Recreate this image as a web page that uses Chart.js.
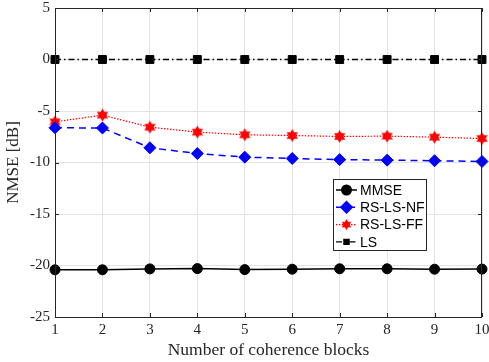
<!DOCTYPE html>
<html>
<head>
<meta charset="utf-8">
<script src="https://cdn.jsdelivr.net/npm/chart.js@4"></script>
<style>
  html, body { margin: 0; padding: 0; background: #fff; }
  #wrap { width: 489px; height: 362px; }
</style>
</head>
<body>
<div id="wrap"><canvas id="chart" width="489" height="362"></canvas></div>
<script>
// data
const blocks = [1, 2, 3, 4, 5, 6, 7, 8, 9, 10];
const mmse = [-20.42, -20.42, -20.33, -20.3, -20.4, -20.36, -20.32, -20.32, -20.36, -20.35];
const rsLsNf = [-6.63, -6.65, -8.57, -9.13, -9.48, -9.61, -9.72, -9.77, -9.83, -9.9];
const rsLsFf = [-6.05, -5.4, -6.57, -7.05, -7.31, -7.38, -7.47, -7.44, -7.54, -7.67];
const ls = [0, 0, 0, 0, 0, 0, 0, 0, 0, 0];
const yTicks = [-25, -20, -15, -10, -5, 0, 5];

// six-pointed star marker
function makeHexagram(color, r) {
  const c = document.createElement('canvas');
  const s = Math.ceil(r * 2 + 2);
  c.width = s; c.height = s;
  const g = c.getContext('2d');
  const cx = s / 2, cy = s / 2;
  g.fillStyle = color;
  [-Math.PI / 2, Math.PI / 2].forEach(a0 => {
    g.beginPath();
    for (let i = 0; i < 3; i++) {
      const a = a0 + i * 2 * Math.PI / 3;
      const x = cx + r * Math.cos(a), y = cy + r * Math.sin(a);
      if (i === 0) g.moveTo(x, y); else g.lineTo(x, y);
    }
    g.closePath();
    g.fill();
  });
  return c;
}
const starRed = makeHexagram('#ff0000', 6.5);
const starRedSmall = makeHexagram('#ff0000', 5.5);

const series = [
  { label: 'MMSE', data: mmse, color: '#000000', dash: [], width: 1.5, style: 'circle', radius: 5 },
  { label: 'RS-LS-NF', data: rsLsNf, color: '#0000ff', dash: [7, 5], width: 1.5, style: 'rectRot', radius: 6 },
  { label: 'RS-LS-FF', data: rsLsFf, color: '#ff0000', dash: [1.5, 1.5], width: 1.2, style: starRed, radius: 6 },
  { label: 'LS', data: ls, color: '#000000', dash: [6, 3, 1.5, 3], width: 1.3, style: 'rect', radius: 5.6 }
];

// box, inward ticks and legend drawn MATLAB style
const matlabBox = {
  id: 'matlabBox',
  afterDraw(chart) {
    const { ctx, chartArea: a, scales } = chart;
    ctx.save();
    ctx.strokeStyle = '#262626';
    ctx.lineWidth = 1;
    ctx.setLineDash([]);
    ctx.strokeRect(a.left + 0.5, a.top + 0.5, a.right - a.left - 1, a.bottom - a.top);
    ctx.beginPath();
    scales.x.ticks.forEach(t => {
      const x = Math.round(scales.x.getPixelForValue(t.value)) + 0.5;
      ctx.moveTo(x, a.bottom); ctx.lineTo(x, a.bottom - 4);
      ctx.moveTo(x, a.top); ctx.lineTo(x, a.top + 4);
    });
    scales.y.ticks.forEach(t => {
      const y = Math.round(scales.y.getPixelForValue(t.value)) + 0.5;
      ctx.moveTo(a.left, y); ctx.lineTo(a.left + 4, y);
      ctx.moveTo(a.right, y); ctx.lineTo(a.right - 4, y);
    });
    ctx.stroke();

    // legend
    const lx = 333, ly = 179, lw = 93, lh = 71;
    ctx.fillStyle = '#fff';
    ctx.fillRect(lx, ly, lw, lh);
    ctx.strokeStyle = '#262626';
    ctx.strokeRect(lx + 0.5, ly + 0.5, lw, lh);
    ctx.font = '14px "Liberation Sans", Arial, sans-serif';
    ctx.textBaseline = 'middle';
    chart.data.datasets.forEach((ds, i) => {
      const y = ly + 11 + i * 17.3;
      ctx.strokeStyle = ds.borderColor;
      ctx.lineWidth = ds.borderWidth;
      ctx.setLineDash(ds.borderDash || []);
      ctx.beginPath();
      ctx.moveTo(lx + 3, y); ctx.lineTo(lx + 24, y);
      ctx.stroke();
      ctx.setLineDash([]);
      ctx.fillStyle = ds.borderColor;
      Chart.helpers.drawPoint(ctx, {
        pointStyle: i === 2 ? starRedSmall : ds.pointStyle,
        radius: ds.pointRadius * (i === 3 ? 0.65 : 0.95),
        borderWidth: 1, rotation: 0
      }, lx + 13.5, y);
      ctx.fillStyle = '#000';
      ctx.fillText(ds.label, lx + 27, y + 1);
    });
    ctx.restore();
  }
};

new Chart(document.getElementById('chart').getContext('2d'), {
  type: 'line',
  data: {
    labels: blocks,
    datasets: series.map(s => ({
      label: s.label,
      data: s.data,
      borderColor: s.color,
      backgroundColor: s.color,
      pointBackgroundColor: s.color,
      pointBorderColor: s.color,
      borderWidth: s.width,
      borderDash: s.dash,
      pointStyle: s.style,
      pointRadius: s.radius,
      pointBorderWidth: 1,
      tension: 0,
      fill: false,
      clip: false
    }))
  },
  options: {
    responsive: false,
    animation: false,
    devicePixelRatio: 1,
    layout: { padding: { top: 8, right: 5, left: 0, bottom: 0 } },
    plugins: { legend: { display: false }, tooltip: { enabled: false } },
    scales: {
      x: {
        type: 'linear',
        min: 1, max: 10,
        afterBuildTicks: s => { s.ticks = blocks.map(v => ({ value: v })); },
        afterFit: s => { s.height = 45; s.paddingLeft = 0; s.paddingRight = 0; },
        grid: { color: '#e3e3e3', drawTicks: false },
        border: { display: false },
        ticks: {
          padding: 4,
          color: '#262626',
          maxRotation: 0,
          font: { family: '"Liberation Serif", "DejaVu Serif", serif', size: 15 }
        },
        title: {
          display: true,
          text: 'Number of coherence blocks',
          color: '#262626',
          font: { family: '"Liberation Serif", "DejaVu Serif", serif', size: 17.5 },
          padding: { top: 0, bottom: 1 }
        }
      },
      y: {
        min: -25, max: 5,
        afterBuildTicks: s => { s.ticks = yTicks.map(v => ({ value: v })); },
        afterFit: s => { s.width = 55; s.paddingTop = 0; s.paddingBottom = 0; },
        grid: { color: '#e3e3e3', drawTicks: false },
        border: { display: false },
        ticks: {
          padding: 5,
          color: '#262626',
          font: { family: '"Liberation Serif", "DejaVu Serif", serif', size: 15 }
        },
        title: {
          display: true,
          text: 'NMSE [dB]',
          color: '#262626',
          font: { family: '"Liberation Serif", "DejaVu Serif", serif', size: 17 },
          padding: { top: 3, bottom: 4 }
        }
      }
    }
  },
  plugins: [matlabBox]
});
</script>
</body>
</html>
